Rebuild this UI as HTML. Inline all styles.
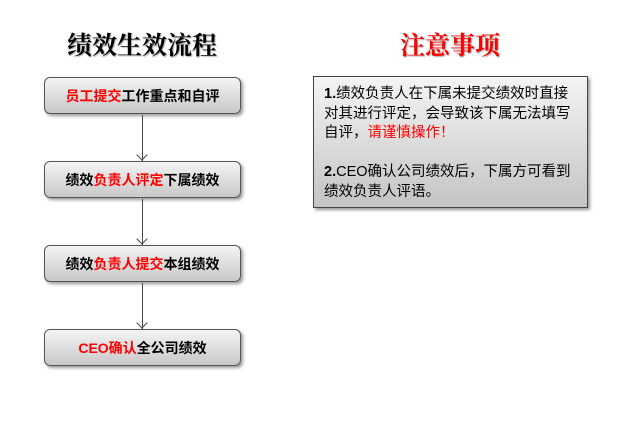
<!DOCTYPE html>
<html><head><meta charset="utf-8"><style>
body{margin:0;width:625px;height:428px;background:#fff;position:relative;overflow:hidden;font-family:"Liberation Sans","Noto Sans CJK SC",sans-serif;}
.t{position:absolute;top:26px;font-size:25px;font-family:"Noto Serif CJK SC","Noto Sans CJK SC",serif;font-weight:bold;text-align:center;width:240px;text-shadow:1px 1px 1px #aaa;}
.b{position:absolute;left:44px;width:197px;height:37px;border:1px solid #555;border-radius:6px;background:linear-gradient(#f4f4f4,#c8c8c8);box-shadow:2px 2px 3px #999;font-size:14px;font-weight:bold;text-align:center;line-height:37px;box-sizing:border-box;}
.r{color:#f00}
.l{position:absolute;left:142px;width:1px;background:#444;}
.a{position:absolute;left:137px;width:7px;height:7px;border-right:1px solid #444;border-bottom:1px solid #444;transform:rotate(45deg);}
.n{position:absolute;left:313px;top:76px;width:275px;height:132px;border:1px solid #444;background:linear-gradient(#f4f4f4,#c4c4c4);box-shadow:2px 2px 3px #999;box-sizing:border-box;padding:8px 8px 8px 10px;font-size:14.5px;line-height:19.5px;}
</style></head><body>
<div class="t" style="left:22px;color:#000">绩效生效流程</div>
<div class="t" style="left:330px;color:#f00">注意事项</div>
<div class="b" style="top:77px"><span class="r">员工提交</span>工作重点和自评</div>
<div class="b" style="top:161px">绩效<span class="r">负责人评定</span>下属绩效</div>
<div class="b" style="top:245px">绩效<span class="r">负责人提交</span>本组绩效</div>
<div class="b" style="top:329px"><span class="r">CEO确认</span>全公司绩效</div>
<div class="l" style="top:115px;height:46px"></div><div class="a" style="top:151px;left:138px"></div>
<div class="l" style="top:199px;height:46px"></div><div class="a" style="top:235px;left:138px"></div>
<div class="l" style="top:283px;height:46px"></div><div class="a" style="top:319px;left:138px"></div>
<div class="n"><b>1.</b>绩效负责人在下属未提交绩效时直接<br>对其进行评定，会导致该下属无法填写<br>自评，<span class="r">请谨慎操作！</span><br><br><b>2.</b>CEO确认公司绩效后，下属方可看到<br>绩效负责人评语。</div>
</body></html>
